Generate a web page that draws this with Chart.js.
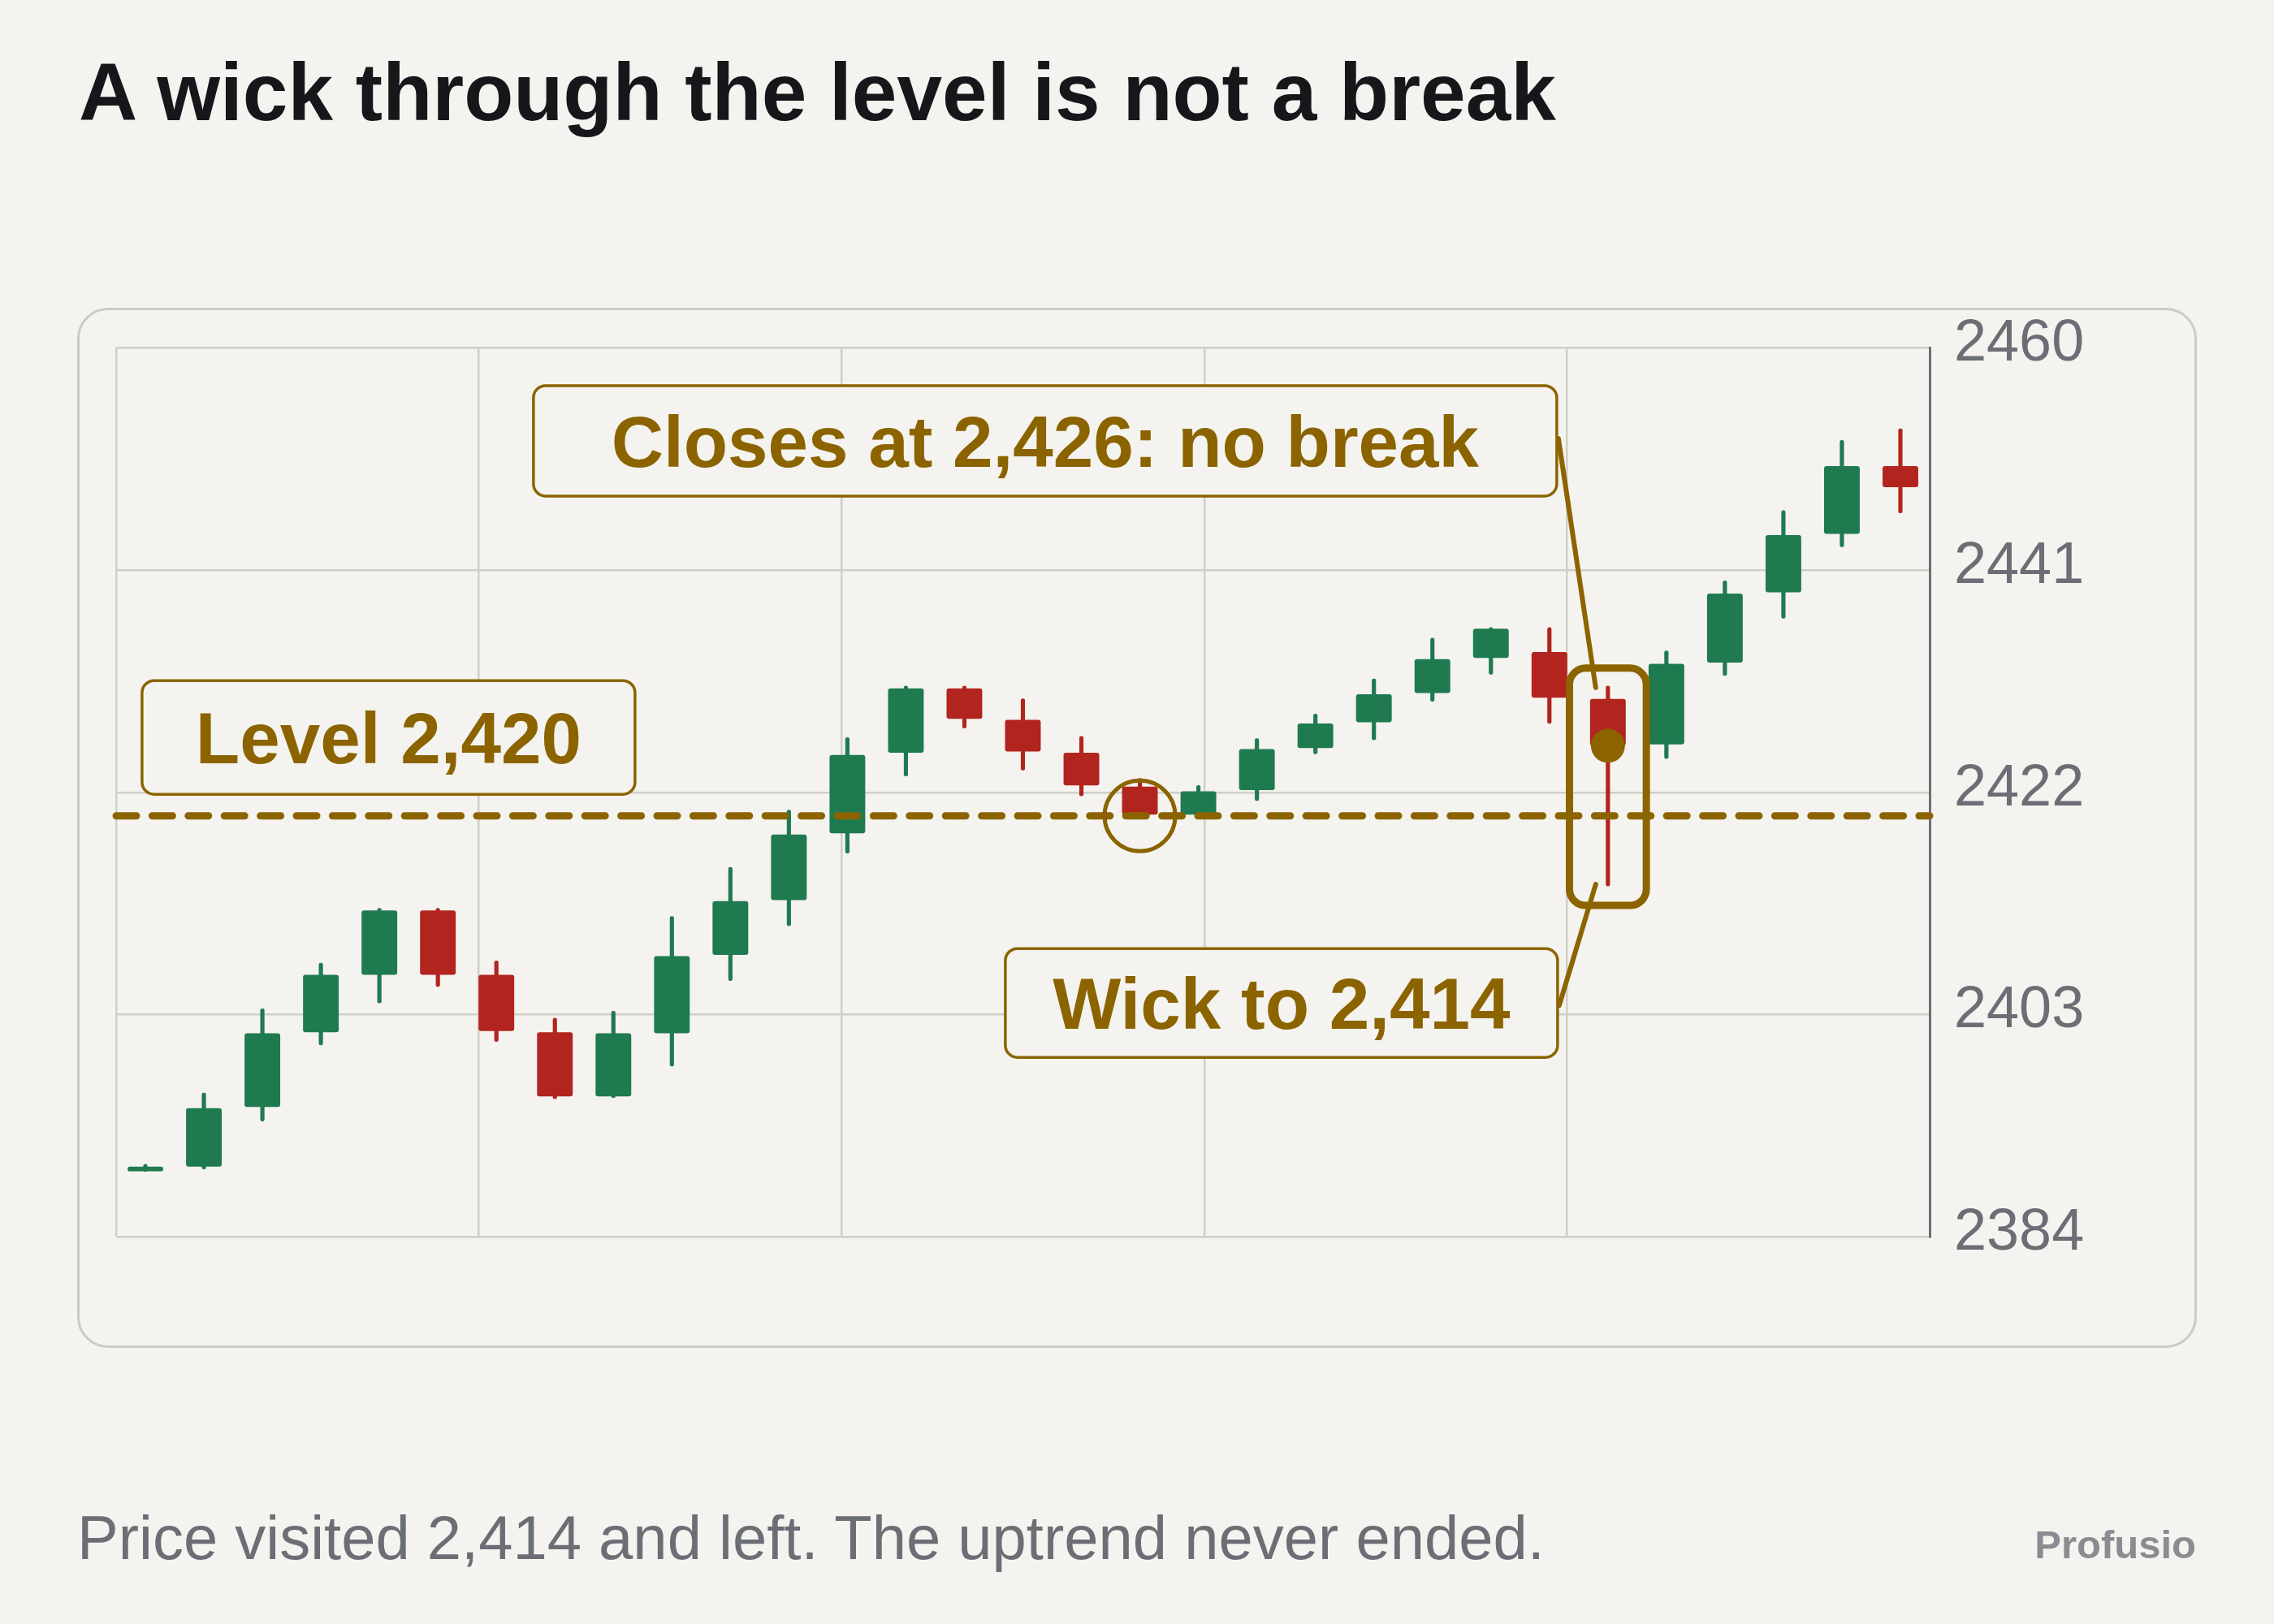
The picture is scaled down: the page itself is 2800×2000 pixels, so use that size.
<!DOCTYPE html>
<html>
<head>
<meta charset="utf-8">
<title>A wick through the level is not a break</title>
<script src="https://cdn.jsdelivr.net/npm/chart.js@4.4.1/dist/chart.umd.min.js"></script>
<style>
  html, body { margin:0; padding:0; background:#f4f3ef; }
  #page { position:relative; width:2800px; height:2000px; overflow:hidden; font-family:"Liberation Sans", Arial, sans-serif; }
  h1 { position:absolute; left:97px; top:63px; margin:0; font-size:100px; line-height:1; font-weight:700; color:#16171b; white-space:nowrap; }
  .card { position:absolute; left:95px; top:379px; width:2610px; height:1281px; box-sizing:border-box; border:3px solid #cbcbc3; border-radius:38px; }
  #chart { position:absolute; left:0; top:0; }
  .note { position:absolute; left:95px; top:1856px; margin:0; font-size:76px; line-height:1; color:#6b6e75; white-space:nowrap; }
  .brand { position:absolute; right:96px; top:1878px; font-size:49px; line-height:1; font-weight:700; color:#8a8c91; }
</style>
</head>
<body>
<div id="page">
  <h1>A wick through the level is not a break</h1>
  <div class="card"></div>
  <canvas id="chart" width="2800" height="2000"></canvas>
  <p class="note">Price visited 2,414 and left. The uptrend never ended.</p>
  <div class="brand">Profusio</div>
</div>
<script>
// sessions (one candle each)
const sessions = ["1","2","3","4","5","6","7","8","9","10","11","12","13","14","15","16",
  "17","18","19","20","21","22","23","24","25","26","27","28","29","30","31"];

const openP  = [2389.6, 2390.0, 2395.1, 2401.5, 2406.4, 2411.9, 2406.4, 2401.5, 2396.0, 2401.4, 2408.1,
  2412.8, 2418.5, 2425.4, 2430.9, 2428.2, 2425.4, 2422.5, 2420.1, 2422.2, 2425.8,
  2428.0, 2430.5, 2433.5, 2434.0, 2430.0, 2426.1, 2433.1, 2439.1, 2444.1, 2449.9];
const highP  = [2390.2, 2396.3, 2403.5, 2407.4, 2412.1, 2412.1, 2407.6, 2402.7, 2403.3, 2411.4, 2415.6,
  2420.5, 2426.7, 2431.1, 2431.1, 2430.0, 2426.8, 2423.2, 2422.6, 2426.6, 2428.7,
  2431.7, 2435.2, 2436.1, 2436.1, 2431.1, 2434.1, 2440.1, 2446.1, 2452.1, 2453.1];
const lowP   = [2389.6, 2389.8, 2393.9, 2400.4, 2404.0, 2405.4, 2400.7, 2395.8, 2395.9, 2398.6, 2405.9,
  2410.6, 2416.8, 2423.4, 2427.5, 2423.9, 2421.7, 2419.8, 2419.9, 2421.3, 2425.3,
  2426.5, 2429.8, 2432.1, 2427.9, 2414.0, 2424.9, 2432.0, 2436.9, 2443.0, 2445.9];
const closeP = [2390.0, 2395.0, 2401.4, 2406.4, 2411.9, 2406.4, 2401.6, 2396.0, 2401.4, 2408.0, 2412.7,
  2418.4, 2425.2, 2430.9, 2428.3, 2425.5, 2422.6, 2420.1, 2422.1, 2425.7, 2427.9,
  2430.4, 2433.4, 2436.0, 2430.1, 2426.0, 2433.0, 2439.0, 2444.0, 2449.9, 2448.1];

const level = 2420;
const yTicks = [2384, 2403, 2422, 2441, 2460];
const xGrid = [0, 6.2, 12.4, 18.6, 24.8, 31];

const wickIdx = 25;   // the candle that pierces the level
const touchIdx = 17;  // the candle that sits on the level

const GREEN = "#1f7a50", RED = "#b2241e", GOLD = "#8b6400", BG = "#f4f3ef";
const GRID = "#cfcfc7", AXIS = "#6b6e75";

// annotation boxes, centred on (slot units, price)
const notes = [
  { text: "Level 2,420", x: 4.656, y: 2426.7, w: 607, h: 140 },
  { text: "Closes at 2,426: no break", x: 15.88, y: 2452.06, w: 1260, h: 136 },
  { text: "Wick to 2,414", x: 19.92, y: 2404.0, w: 680, h: 134 }
];

const colors = closeP.map((c, i) => c >= openP[i] ? GREEN : RED);
const markAt = (idx, v) => sessions.map((_, i) => i === idx ? v : null);

const annotations = {
  id: "annotations",
  afterDatasetsDraw(chart) {
    const { ctx } = chart;
    const xs = chart.scales.xg, xc = chart.scales.x, ys = chart.scales.y;
    ctx.save();

    // frame around the wick candle
    const cx = xc.getPixelForValue(wickIdx);
    const half = xs.getPixelForValue(0.657) - xs.getPixelForValue(0);
    const top = ys.getPixelForValue(highP[wickIdx]) - 22;
    const bot = ys.getPixelForValue(lowP[wickIdx]) + 24;
    ctx.strokeStyle = GOLD;
    ctx.lineWidth = 9;
    ctx.beginPath();
    ctx.roundRect(cx - half, top, half * 2, bot - top, 20);
    ctx.stroke();

    ctx.font = "bold 89px 'Liberation Sans', Arial, sans-serif";
    ctx.textAlign = "center";
    ctx.textBaseline = "alphabetic";
    const boxes = notes.map(n => {
      const mx = xs.getPixelForValue(n.x), my = ys.getPixelForValue(n.y);
      return { n, l: mx - n.w / 2, r: mx + n.w / 2, t: my - n.h / 2, mx, my };
    });

    // leaders from the two right-hand boxes to the wick ends
    ctx.lineWidth = 6;
    ctx.lineCap = "round";
    ctx.beginPath();
    ctx.moveTo(boxes[1].r + 2, boxes[1].my - 3);
    ctx.lineTo(cx - 15, ys.getPixelForValue(highP[wickIdx]) + 2);
    ctx.moveTo(boxes[2].r + 2, boxes[2].my + 3);
    ctx.lineTo(cx - 15, ys.getPixelForValue(lowP[wickIdx]) - 2);
    ctx.stroke();

    // label boxes
    boxes.forEach(b => {
      ctx.beginPath();
      ctx.roundRect(b.l, b.t, b.n.w, b.n.h, 15);
      ctx.fillStyle = BG;
      ctx.fill();
      ctx.lineWidth = 3.5;
      ctx.strokeStyle = GOLD;
      ctx.stroke();
      ctx.fillStyle = GOLD;
      ctx.fillText(b.n.text, b.mx, b.my + 89 * 0.716 / 2);
    });
    ctx.restore();
  }
};

Chart.defaults.font.family = "'Liberation Sans', Arial, sans-serif";

new Chart(document.getElementById("chart"), {
  type: "bar",
  data: {
    labels: sessions,
    datasets: [
      {
        type: "line", label: "close", data: markAt(wickIdx, closeP[wickIdx]),
        showLine: false, pointRadius: 21, pointBorderWidth: 0,
        pointBackgroundColor: GOLD, order: 0
      },
      {
        type: "line", label: "touch", data: markAt(touchIdx, level),
        showLine: false, pointRadius: 43.5, pointBorderWidth: 5,
        pointBorderColor: GOLD, pointBackgroundColor: "rgba(0,0,0,0)", order: 0
      },
      {
        type: "line", label: "level", xAxisID: "xg",
        data: [{ x: xGrid[0], y: level }, { x: xGrid[xGrid.length - 1], y: level }],
        borderColor: GOLD, borderWidth: 9, borderDash: [25, 19.4], borderCapStyle: "round",
        pointRadius: 0, clip: false, order: 1
      },
      {
        label: "body", data: openP.map((o, i) => [o, closeP[i]]),
        backgroundColor: colors, barPercentage: 0.61, categoryPercentage: 1,
        borderRadius: 3, borderSkipped: false, grouped: false, order: 2
      },
      {
        label: "wick", data: lowP.map((l, i) => [l, highP[i]]),
        backgroundColor: colors, barThickness: 4.5,
        borderRadius: 2.25, borderSkipped: false, grouped: false, order: 3
      }
    ]
  },
  options: {
    responsive: false,
    animation: false,
    layout: { padding: { left: 143, right: 0, top: 428.6, bottom: 476.8 } },
    plugins: { legend: { display: false }, tooltip: { enabled: false } },
    scales: {
      x: { type: "category", display: false, offset: true },
      xg: {
        type: "linear", position: "bottom", min: 0, max: 31, offset: false,
        afterBuildTicks: s => { s.ticks = xGrid.map(v => ({ value: v })); },
        afterFit: s => { s.height = 0; },
        grid: { color: GRID, lineWidth: 2.5, drawTicks: false, offset: false },
        border: { display: false },
        ticks: { display: false }
      },
      y: {
        position: "right", min: 2384, max: 2460,
        afterBuildTicks: s => { s.ticks = yTicks.map(v => ({ value: v })); },
        afterFit: s => { s.width = 424; },
        grid: { color: GRID, lineWidth: 2.5, drawTicks: false },
        border: { display: true, color: AXIS, width: 3 },
        ticks: { color: AXIS, font: { size: 72 }, padding: 30, labelOffset: -4, callback: v => String(v) }
      }
    }
  },
  plugins: [annotations]
});
</script>
</body>
</html>
